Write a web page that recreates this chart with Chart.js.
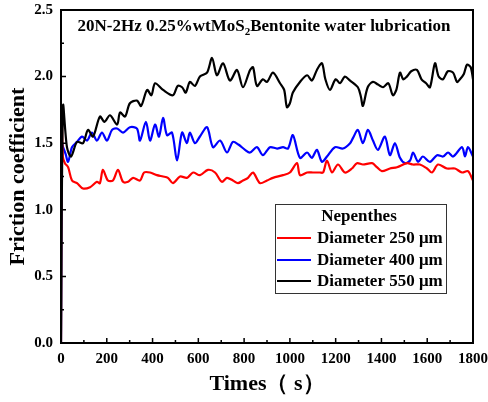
<!DOCTYPE html>
<html>
<head>
<meta charset="utf-8">
<script src="https://cdn.jsdelivr.net/npm/chart.js@4.4.1/dist/chart.umd.min.js"></script>
<style>
    html, body { margin: 0; padding: 0; background: #fff; }
    #frictionChart { display: block; }
</style>
</head>
<body>
<canvas id="frictionChart" width="488" height="402"></canvas>
<script>
// values (time in s, friction coefficient)
const seriesLabels = ['Diameter 250 μm', 'Diameter 400 μm', 'Diameter 550 μm'];
const seriesColors = ['#ff0000', '#0000ff', '#000000'];

const d250Times = [0, 3, 8, 17, 31, 48, 70, 96, 127, 157, 170, 183, 205, 227, 249, 271, 293, 315, 345, 363, 389, 419, 446, 467, 489, 520, 550, 577, 607, 642, 673, 703, 725, 751, 773, 795, 817, 839, 869, 900, 926, 970, 1000, 1031, 1044, 1075, 1101, 1131, 1145, 1162, 1184, 1210, 1241, 1271, 1293, 1319, 1359, 1380, 1402, 1437, 1468, 1511, 1538, 1568, 1599, 1621, 1647, 1686, 1721, 1752, 1778, 1800];
const d250Values = [0, 1.75, 1.40, 1.35, 1.32, 1.22, 1.20, 1.16, 1.17, 1.21, 1.20, 1.30, 1.22, 1.22, 1.30, 1.21, 1.21, 1.24, 1.22, 1.28, 1.28, 1.26, 1.25, 1.24, 1.20, 1.25, 1.24, 1.28, 1.26, 1.30, 1.28, 1.21, 1.24, 1.22, 1.20, 1.22, 1.24, 1.28, 1.20, 1.22, 1.24, 1.26, 1.28, 1.35, 1.26, 1.28, 1.28, 1.28, 1.28, 1.37, 1.28, 1.34, 1.28, 1.31, 1.35, 1.34, 1.35, 1.32, 1.29, 1.31, 1.32, 1.35, 1.34, 1.34, 1.31, 1.28, 1.34, 1.31, 1.31, 1.28, 1.29, 1.22];

const d400Times = [0, 4, 9, 20, 31, 48, 70, 92, 114, 135, 157, 179, 201, 223, 245, 271, 301, 332, 345, 371, 389, 411, 428, 446, 463, 485, 507, 529, 550, 563, 585, 607, 638, 664, 695, 725, 751, 775, 804, 826, 856, 882, 913, 944, 970, 992, 1013, 1044, 1075, 1096, 1118, 1140, 1162, 1197, 1232, 1263, 1276, 1297, 1319, 1341, 1363, 1385, 1415, 1437, 1459, 1481, 1503, 1525, 1538, 1560, 1581, 1612, 1643, 1669, 1691, 1713, 1752, 1765, 1778, 1800];
const d400Values = [0, 1.50, 1.47, 1.42, 1.36, 1.47, 1.51, 1.55, 1.52, 1.58, 1.52, 1.58, 1.52, 1.60, 1.61, 1.58, 1.62, 1.61, 1.52, 1.66, 1.52, 1.64, 1.55, 1.69, 1.56, 1.58, 1.37, 1.58, 1.50, 1.58, 1.50, 1.55, 1.62, 1.47, 1.52, 1.43, 1.51, 1.49, 1.45, 1.43, 1.47, 1.41, 1.47, 1.46, 1.47, 1.46, 1.56, 1.39, 1.43, 1.39, 1.45, 1.36, 1.40, 1.47, 1.46, 1.50, 1.54, 1.60, 1.50, 1.60, 1.52, 1.45, 1.55, 1.41, 1.50, 1.39, 1.35, 1.37, 1.43, 1.36, 1.40, 1.36, 1.41, 1.40, 1.43, 1.40, 1.47, 1.40, 1.47, 1.40];

const d550Times = [0, 9, 26, 44, 70, 96, 118, 140, 170, 190, 214, 245, 258, 280, 301, 332, 350, 376, 395, 411, 446, 489, 510, 529, 545, 563, 585, 607, 638, 660, 681, 708, 738, 769, 795, 826, 839, 856, 882, 900, 926, 957, 975, 987, 1000, 1013, 1044, 1075, 1096, 1118, 1140, 1155, 1175, 1200, 1219, 1240, 1263, 1297, 1310, 1319, 1340, 1363, 1385, 1407, 1430, 1450, 1465, 1481, 1495, 1511, 1530, 1555, 1575, 1595, 1612, 1634, 1650, 1669, 1690, 1713, 1730, 1743, 1760, 1774, 1790, 1800];
const d550Values = [0, 1.78, 1.47, 1.40, 1.51, 1.50, 1.60, 1.55, 1.70, 1.66, 1.71, 1.64, 1.73, 1.70, 1.80, 1.82, 1.78, 1.90, 1.86, 1.95, 1.90, 1.86, 1.93, 1.92, 1.88, 1.96, 1.93, 2.00, 2.03, 2.14, 2.01, 2.10, 1.97, 2.05, 1.92, 2.05, 2.07, 1.93, 1.98, 1.96, 2.03, 1.95, 1.90, 1.77, 1.80, 1.88, 1.96, 2.01, 1.97, 2.05, 2.10, 1.98, 1.90, 1.98, 1.95, 2.00, 1.97, 1.92, 1.85, 1.78, 1.92, 1.96, 1.94, 1.92, 1.95, 1.86, 1.90, 2.03, 1.98, 2.00, 2.04, 2.05, 1.98, 1.95, 1.92, 2.10, 2.00, 1.98, 2.04, 2.03, 1.96, 1.98, 2.02, 2.09, 2.07, 1.98];

const xTickValues = [0, 200, 400, 600, 800, 1000, 1200, 1400, 1600, 1800];
const yTickValues = [0, 0.5, 1.0, 1.5, 2.0, 2.5];

const serif = "'Liberation Serif', 'Times New Roman', serif";

const toPoints = (times, values) => times.map((t, i) => ({ x: t, y: values[i] }));

const datasets = [
    { label: seriesLabels[0], data: toPoints(d250Times, d250Values), borderColor: seriesColors[0], order: 1 },
    { label: seriesLabels[1], data: toPoints(d400Times, d400Values), borderColor: seriesColors[1], order: 2 },
    { label: seriesLabels[2], data: toPoints(d550Times, d550Values), borderColor: seriesColors[2], order: 0 }
].map(ds => Object.assign(ds, {
    borderWidth: 2.2, pointRadius: 0, tension: 0.3, fill: false,
    borderJoinStyle: 'round', borderCapStyle: 'round'
}));

// box around the plot and inward tick marks
const framePlugin = {
    id: 'frame',
    afterDatasetsDraw(chart) {
        const { ctx, chartArea: a, scales } = chart;
        ctx.save();
        ctx.strokeStyle = '#000';
        ctx.lineWidth = 2;
        ctx.strokeRect(a.left, a.top, a.right - a.left, a.bottom - a.top);

        ctx.lineWidth = 1.5;
        ctx.beginPath();
        for (let i = 0; i <= 18; i++) {
            const px = scales.x.getPixelForValue(i * 100);
            const len = i % 2 === 0 ? 5 : 3;
            ctx.moveTo(px, a.bottom);
            ctx.lineTo(px, a.bottom - len);
        }
        for (let i = 0; i <= 10; i++) {
            const py = scales.y.getPixelForValue(i * 0.25);
            const len = i % 2 === 0 ? 5 : 3;
            ctx.moveTo(a.left, py);
            ctx.lineTo(a.left + len, py);
        }
        ctx.stroke();
        ctx.restore();
    }
};

// title with subscript and the boxed legend, both inside the plot
const annotationPlugin = {
    id: 'annotations',
    afterDraw(chart) {
        const { ctx } = chart;
        ctx.save();
        ctx.fillStyle = '#000';
        ctx.textBaseline = 'alphabetic';

        const big = 'bold 17px ' + serif;
        const small = 'bold 11px ' + serif;
        const parts = [
            { text: '20N-2Hz 0.25%wtMoS', font: big, dy: 0 },
            { text: '2', font: small, dy: 4 },
            { text: 'Bentonite water lubrication', font: big, dy: 0 }
        ];
        let total = 0;
        parts.forEach(p => { ctx.font = p.font; p.w = ctx.measureText(p.text).width; total += p.w; });
        let x = 264 - total / 2;
        parts.forEach(p => {
            ctx.font = p.font;
            ctx.fillText(p.text, x, 31 + p.dy);
            x += p.w;
        });

        // legend
        const box = { left: 275, top: 204, width: 171, height: 89 };
        ctx.fillStyle = '#fff';
        ctx.fillRect(box.left, box.top, box.width, box.height);
        ctx.strokeStyle = '#333';
        ctx.lineWidth = 1;
        ctx.strokeRect(box.left + 0.5, box.top + 0.5, box.width, box.height);

        ctx.fillStyle = '#000';
        ctx.textBaseline = 'middle';
        ctx.textAlign = 'center';
        ctx.font = 'bold 17px ' + serif;
        ctx.fillText('Nepenthes', 359, 217);

        ctx.textAlign = 'left';
        const rowY = [238, 260, 281];
        chart.data.datasets.forEach((ds, i) => {
            ctx.strokeStyle = ds.borderColor;
            ctx.lineWidth = 2;
            ctx.beginPath();
            ctx.moveTo(277, rowY[i]);
            ctx.lineTo(311, rowY[i]);
            ctx.stroke();
            ctx.fillStyle = '#000';
            ctx.fillText(ds.label, 317, rowY[i] + 1);
        });
        ctx.restore();
    }
};

const ctx = document.getElementById('frictionChart').getContext('2d');
const chart = new Chart(ctx, {
    type: 'line',
    data: { datasets: datasets },
    options: {
        responsive: false,
        animation: false,
        devicePixelRatio: 1,
        layout: { padding: { top: 10, right: 15, left: 0, bottom: 0 } },
        plugins: {
            legend: { display: false },
            tooltip: { enabled: false }
        },
        scales: {
            x: {
                type: 'linear',
                min: 0,
                max: 1800,
                afterFit: scale => {
                    scale.height = 59;
                    scale.paddingLeft = 0;
                    scale.paddingRight = 0;
                },
                afterBuildTicks: scale => { scale.ticks = xTickValues.map(v => ({ value: v })); },
                grid: { display: false, drawTicks: false },
                border: { display: false },
                ticks: {
                    padding: 7,
                    color: '#000',
                    font: { family: serif, size: 15, weight: 'bold' },
                    callback: v => String(v)
                },
                title: {
                    display: true,
                    text: 'Times（ s）',
                    color: '#000',
                    font: { family: serif, size: 22, weight: 'bold' },
                    padding: { top: 0, bottom: 4 }
                }
            },
            y: {
                type: 'linear',
                min: 0,
                max: 2.5,
                afterFit: scale => {
                    scale.width = 61;
                    scale.paddingTop = 0;
                    scale.paddingBottom = 0;
                },
                afterBuildTicks: scale => { scale.ticks = yTickValues.map(v => ({ value: v })); },
                grid: { display: false, drawTicks: false },
                border: { display: false },
                ticks: {
                    padding: 8,
                    color: '#000',
                    font: { family: serif, size: 15, weight: 'bold' },
                    callback: v => v.toFixed(1)
                },
                title: {
                    display: true,
                    text: 'Friction coefficient',
                    color: '#000',
                    font: { family: serif, size: 22, weight: 'bold' },
                    padding: { top: 5, bottom: 0 }
                }
            }
        }
    },
    plugins: [framePlugin, annotationPlugin]
});
</script>
</body>
</html>
